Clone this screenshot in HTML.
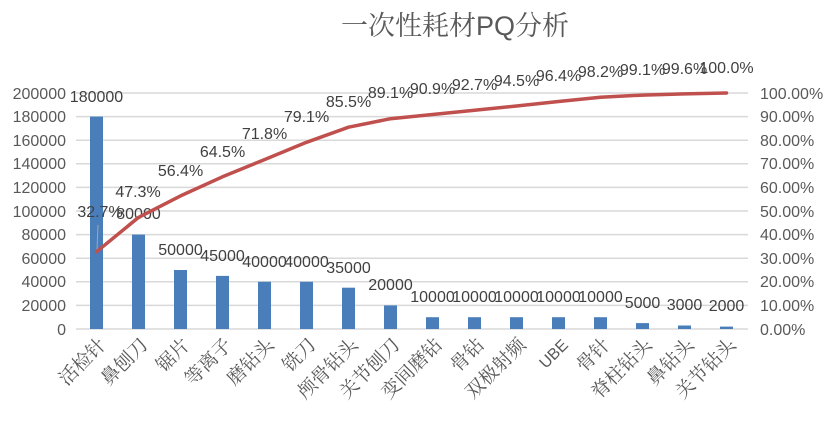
<!DOCTYPE html><html><head><meta charset="utf-8"><style>body{margin:0;background:#fff}svg{display:block}</style></head><body>
<svg width="827" height="423" xmlns="http://www.w3.org/2000/svg" font-family="Liberation Sans, Noto Sans CJK SC, sans-serif">
<rect width="827" height="423" fill="#fff"/>
<text x="455" y="35" font-size="27" fill="#595959" text-anchor="middle" font-family="Noto Serif CJK SC, serif">一次性耗材<tspan font-family="Liberation Sans, sans-serif">PQ</tspan>分析</text>
<g stroke="#d9d9d9" stroke-width="1.5">
<line x1="76" x2="748" y1="93" y2="93"/><line x1="76" x2="748" y1="116.6" y2="116.6"/><line x1="76" x2="748" y1="140.2" y2="140.2"/><line x1="76" x2="748" y1="163.8" y2="163.8"/><line x1="76" x2="748" y1="187.4" y2="187.4"/><line x1="76" x2="748" y1="211" y2="211"/><line x1="76" x2="748" y1="234.6" y2="234.6"/><line x1="76" x2="748" y1="258.2" y2="258.2"/><line x1="76" x2="748" y1="281.8" y2="281.8"/><line x1="76" x2="748" y1="305.4" y2="305.4"/><line x1="76" x2="748" y1="329" y2="329"/>
</g>
<g font-size="16" fill="#595959" text-anchor="end">
<text x="66" y="99">200000</text><text x="66" y="122">180000</text><text x="66" y="146">160000</text><text x="66" y="169">140000</text><text x="66" y="193">120000</text><text x="66" y="217">100000</text><text x="66" y="240">80000</text><text x="66" y="264">60000</text><text x="66" y="287">40000</text><text x="66" y="311">20000</text><text x="66" y="335">0</text>
</g>
<g font-size="16" fill="#595959">
<text x="760" y="99">100.00%</text><text x="760" y="122">90.00%</text><text x="760" y="146">80.00%</text><text x="760" y="169">70.00%</text><text x="760" y="193">60.00%</text><text x="760" y="217">50.00%</text><text x="760" y="240">40.00%</text><text x="760" y="264">30.00%</text><text x="760" y="287">20.00%</text><text x="760" y="311">10.00%</text><text x="760" y="335">0.00%</text>
</g>
<g fill="#4a7ebb">
<rect x="90" y="116.6" width="13" height="212.4"/>
<rect x="132" y="234.6" width="13" height="94.4"/>
<rect x="174" y="270" width="13" height="59"/>
<rect x="216" y="275.9" width="13" height="53.1"/>
<rect x="258" y="281.8" width="13" height="47.2"/>
<rect x="300" y="281.8" width="13" height="47.2"/>
<rect x="342" y="287.7" width="13" height="41.3"/>
<rect x="384" y="305.4" width="13" height="23.6"/>
<rect x="426" y="317.2" width="13" height="11.8"/>
<rect x="468" y="317.2" width="13" height="11.8"/>
<rect x="510" y="317.2" width="13" height="11.8"/>
<rect x="552" y="317.2" width="13" height="11.8"/>
<rect x="594" y="317.2" width="13" height="11.8"/>
<rect x="636" y="323.1" width="13" height="5.9"/>
<rect x="678" y="325.5" width="13" height="3.5"/>
<rect x="720" y="326.6" width="13" height="2.4"/>
</g>
<g font-size="16" fill="#404040" text-anchor="middle">
<text x="96.5" y="102">180000</text><text x="138.5" y="219">80000</text><text x="180.5" y="255">50000</text><text x="222.5" y="261">45000</text><text x="264.5" y="267">40000</text><text x="306.5" y="267">40000</text><text x="348.5" y="273">35000</text><text x="390.5" y="290">20000</text><text x="432.5" y="302">10000</text><text x="474.5" y="302">10000</text><text x="516.5" y="302">10000</text><text x="558.5" y="302">10000</text><text x="600.5" y="302">10000</text><text x="642.5" y="308">5000</text><text x="684.5" y="310">3000</text><text x="726.5" y="311">2000</text>
</g>
<line x1="98" y1="225" x2="97" y2="250" stroke="#a6a6a6" stroke-width="1"/>
<polyline fill="none" stroke="#c0504d" stroke-width="3.5" stroke-linejoin="round" stroke-linecap="round" points="96.5,251.8 138.5,217.4 180.5,195.9 222.5,176.8 264.5,159.6 306.5,142.3 348.5,127.2 390.5,118.7 432.5,114.5 474.5,110.2 516.5,106 558.5,101.5 600.5,97.2 642.5,95.1 684.5,93.9 726.5,93"/>
<g font-size="16" fill="#404040" text-anchor="middle">
<text x="100" y="217">32.7%</text><text x="138" y="197">47.3%</text><text x="180.5" y="176">56.4%</text><text x="222.5" y="157">64.5%</text><text x="264.5" y="139">71.8%</text><text x="306.5" y="122">79.1%</text><text x="348.5" y="107">85.5%</text><text x="390.5" y="98">89.1%</text><text x="432.5" y="94">90.9%</text><text x="474.5" y="90">92.7%</text><text x="516.5" y="86">94.5%</text><text x="558.5" y="81">96.4%</text><text x="600.5" y="77">98.2%</text><text x="642.5" y="75">99.1%</text><text x="684.5" y="74">99.6%</text><text x="726.5" y="73">100.0%</text>
</g>
<g font-size="19" fill="#595959" text-anchor="end" font-family="Noto Serif CJK SC, serif">
<text transform="translate(107,346) rotate(-45)">活检针</text>
<text transform="translate(149,346) rotate(-45)">鼻刨刀</text>
<text transform="translate(191,346) rotate(-45)">锯片</text>
<text transform="translate(233,346) rotate(-45)">等离子</text>
<text transform="translate(275,346) rotate(-45)">磨钻头</text>
<text transform="translate(317,346) rotate(-45)">铣刀</text>
<text transform="translate(359,346) rotate(-45)">颅骨钻头</text>
<text transform="translate(401,346) rotate(-45)">关节刨刀</text>
<text transform="translate(443,346) rotate(-45)">变间磨钻</text>
<text transform="translate(485,346) rotate(-45)">骨钻</text>
<text transform="translate(527,346) rotate(-45)">双极射频</text>
<text transform="translate(569,346) rotate(-45)" font-family="Liberation Sans, sans-serif" font-size="16">UBE</text>
<text transform="translate(611,346) rotate(-45)">骨针</text>
<text transform="translate(653,346) rotate(-45)">脊柱钻头</text>
<text transform="translate(695,346) rotate(-45)">鼻钻头</text>
<text transform="translate(737,346) rotate(-45)">关节钻头</text>
</g>
</svg>
</body></html>
